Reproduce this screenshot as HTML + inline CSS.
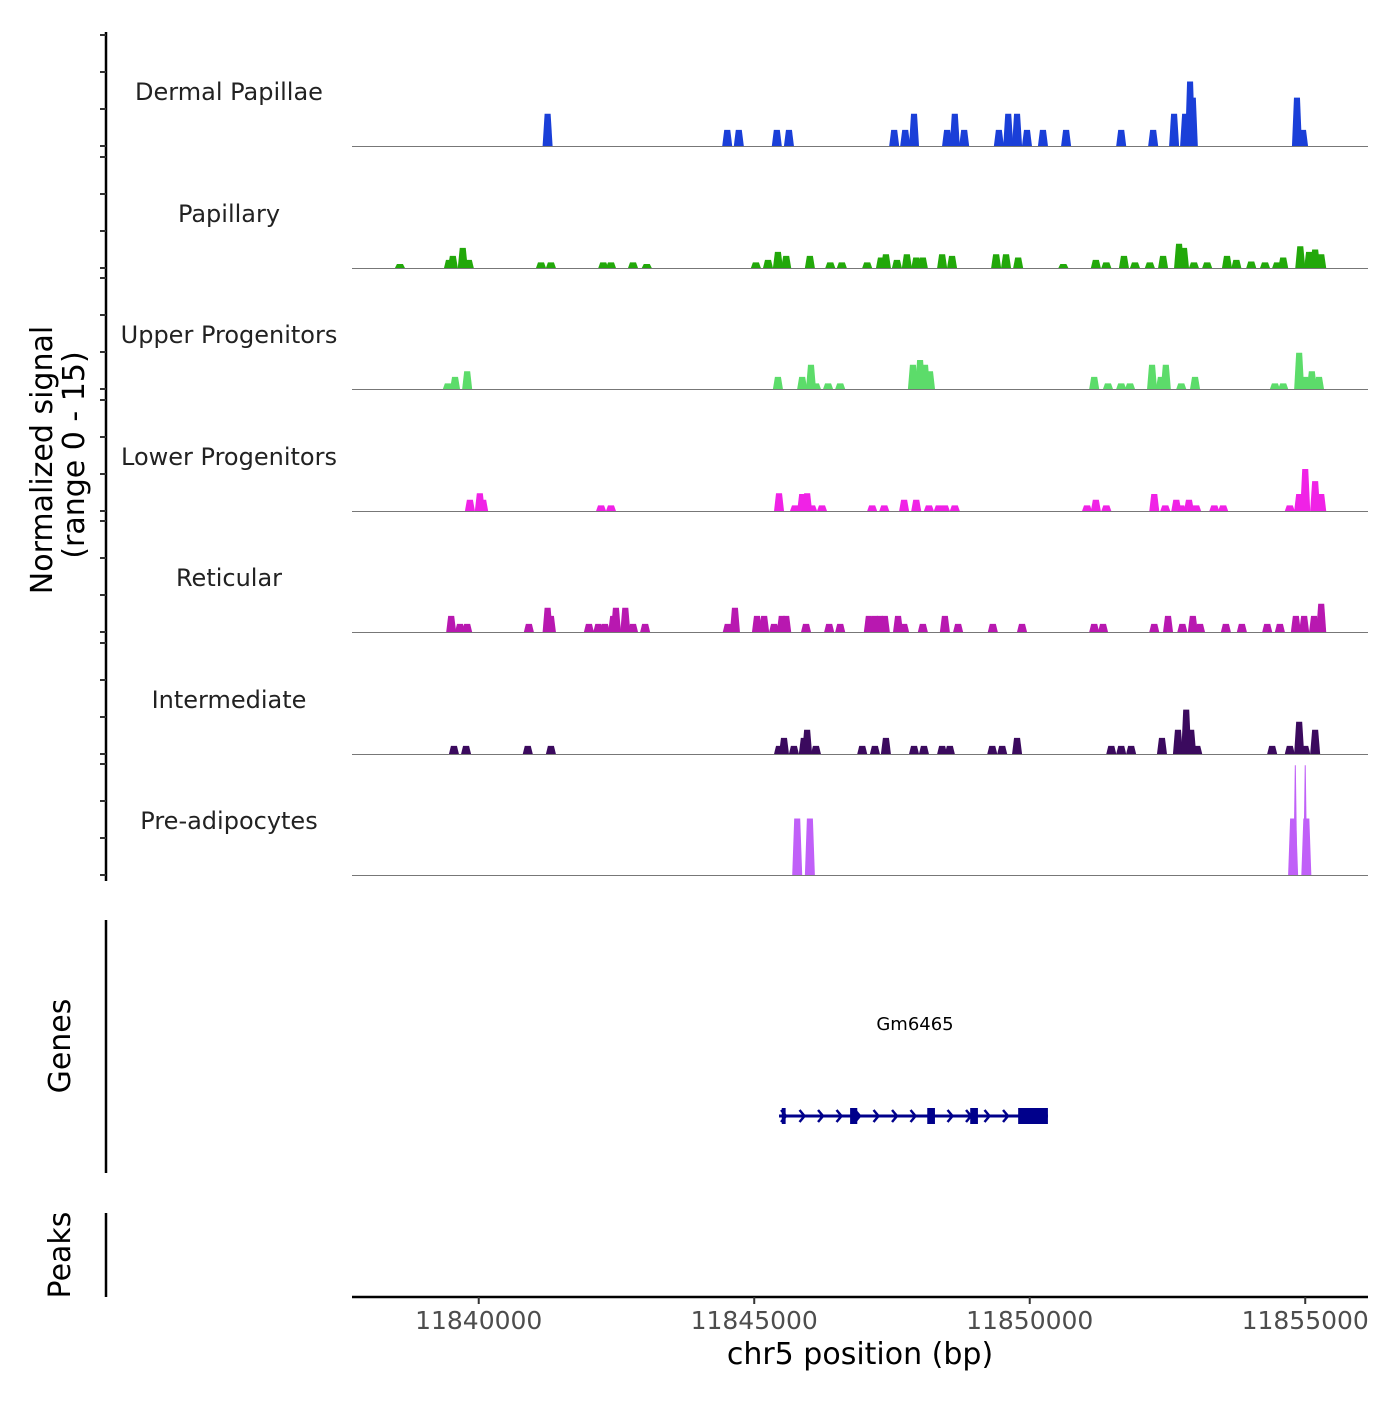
<!DOCTYPE html>
<html><head><meta charset="utf-8"><style>
body{margin:0;background:#fff}
svg text{font-family:"DejaVu Sans","Liberation Sans",sans-serif}
</style></head><body>
<svg id="chart" width="1400" height="1400" xmlns="http://www.w3.org/2000/svg">
<g id="tracks"></g>
<g id="left"></g>
<g id="genes"></g>
<g id="xaxis"></g>
</svg>
<script>
const trackNames = ["Dermal Papillae","Papillary","Upper Progenitors","Lower Progenitors","Reticular","Intermediate","Pre-adipocytes"];
const trackColors = ["#1a3fd8","#22a80a","#5cdc6a","#f022e6","#b818b0","#3b0a5e","#c060f8"];
const dermalPos = [11841.25,11844.51,11844.72,11845.41,11845.63,11847.54,11847.74,11847.90,11848.50,11848.64,11848.81,11849.44,11849.61,11849.77,11849.95,11850.24,11850.66,11851.66,11852.24,11852.62,11852.82,11852.91,11852.96,11854.85,11854.96];
const dermalVal = [4,2,2,2,2,2,2,4,2,4,2,2,4,4,2,2,2,2,2,4,4,8,6,6,2];
const papillaryPos = [11838.57,11839.46,11839.53,11839.71,11839.82,11841.13,11841.31,11842.26,11842.40,11842.80,11843.05,11845.03,11845.25,11845.43,11845.58,11846.01,11846.38,11846.59,11847.05,11847.30,11847.39,11847.59,11847.77,11847.94,11848.06,11848.41,11848.59,11849.39,11849.57,11849.79,11850.61,11851.20,11851.39,11851.71,11851.91,11852.18,11852.42,11852.71,11852.80,11852.98,11853.22,11853.58,11853.75,11854.02,11854.27,11854.49,11854.60,11854.91,11855.07,11855.18,11855.29];
const papillaryVal = [0.5,1,1.5,2.5,1,0.7,0.7,0.7,0.7,0.7,0.5,0.7,1,2,1.5,1.5,0.7,0.7,0.7,1.3,1.7,1,1.7,1.3,1.3,1.7,1.5,1.7,1.7,1.3,0.5,1,0.7,1.5,0.7,0.7,1.5,3,2.5,0.7,0.7,1.5,1,0.8,0.7,0.7,1.3,2.7,2,2.3,1.7];
const upperPos = [11839.44,11839.57,11839.79,11845.43,11845.87,11846.03,11846.12,11846.34,11846.56,11847.88,11848.01,11848.10,11848.19,11851.17,11851.42,11851.66,11851.82,11852.22,11852.38,11852.47,11852.75,11853.00,11854.45,11854.60,11854.89,11855.00,11855.12,11855.25];
const upperVal = [0.7,1.5,2.2,1.5,1.5,3,0.7,0.7,0.7,3,3.6,3,2.2,1.5,0.7,0.7,0.7,3,1.5,3,0.7,1.5,0.7,0.7,4.5,1.5,2.2,1.5];
const lowerPos = [11839.84,11840.02,11840.08,11842.22,11842.40,11845.45,11845.74,11845.87,11845.96,11846.05,11846.23,11847.14,11847.36,11847.72,11847.94,11848.17,11848.35,11848.46,11848.64,11851.04,11851.20,11851.39,11852.26,11852.46,11852.66,11852.75,11852.89,11853.02,11853.35,11853.51,11854.72,11854.89,11855.00,11855.18,11855.29];
const lowerVal = [1.4,2.2,1.4,0.7,0.7,2.2,0.7,2.1,2.2,0.7,0.7,0.7,0.7,1.4,1.4,0.7,0.7,0.7,0.7,0.7,1.4,0.7,2.1,0.7,1.4,0.7,1.4,0.7,0.7,0.7,0.7,2.1,5.2,3.7,2.1];
const reticularPos = [11839.50,11839.66,11839.79,11840.91,11841.25,11841.31,11842.00,11842.17,11842.29,11842.44,11842.49,11842.66,11842.80,11843.02,11844.52,11844.65,11845.05,11845.18,11845.36,11845.50,11845.58,11845.94,11846.36,11846.56,11847.08,11847.19,11847.28,11847.37,11847.61,11847.72,11848.06,11848.46,11848.70,11849.33,11849.86,11851.17,11851.33,11852.26,11852.51,11852.77,11852.96,11853.09,11853.56,11853.85,11854.31,11854.54,11854.83,11854.98,11855.16,11855.29];
const reticularVal = [2,1,1,1,3,2,1,1,1,2,3,3,1,1,1,3,2,2,1,2,2,1,1,1,2,2,2,2,2,1,1,2,1,1,1,1,1,1,2,1,2,1,1,1,1,1,2,2,2,3.5];
const intermediatePos = [11839.55,11839.77,11840.89,11841.31,11845.45,11845.54,11845.72,11845.90,11845.96,11846.12,11846.96,11847.19,11847.39,11847.90,11848.08,11848.41,11848.55,11849.32,11849.50,11849.77,11851.48,11851.66,11851.84,11852.40,11852.69,11852.84,11852.93,11853.04,11854.40,11854.72,11854.89,11855.00,11855.18];
const intermediateVal = [1,1,1,1,1,2,1,2,3,1,1,1,2,1,1,1,1,1,1,2,1,1,1,2,3,5.5,3,1,1,1,4,1,3];
const preadipPos = [11845.78,11846.01,11854.78,11854.82,11855.02,11855.00];
const preadipVal = [7,7,7,13.6,7,13.6];
const trackPos = [dermalPos,papillaryPos,upperPos,lowerPos,reticularPos,intermediatePos,preadipPos];
const trackVal = [dermalVal,papillaryVal,upperVal,lowerVal,reticularVal,intermediateVal,preadipVal];
const xTicks = [11840,11845,11850,11855];
const geneName = "Gm6465";
const geneStart = 11845.45, geneEnd = 11850.33;
const exonStarts = [11845.50,11846.74,11848.14,11848.92,11849.79];
const exonEnds = [11845.57,11846.87,11848.28,11849.06,11850.33];

const NS="http://www.w3.org/2000/svg";
const xMin=11837.7, pxPerKb=55.1, plotL=352, plotR=1368;
const xs = kb => plotL + (kb-xMin)*pxPerKb;
const baselines=[146,268,389,511,632,754,875];
const unitPx=121/15;
const ys=(v,b)=>b - v*unitPx;
function mk(tag,attrs,parent){const e=document.createElementNS(NS,tag);for(const k in attrs)e.setAttribute(k,attrs[k]);parent.appendChild(e);return e;}

const tg=document.getElementById('tracks');
trackNames.forEach((name,i)=>{
  const b=baselines[i];
  const g=mk('g',{},tg);
  
  
  const lab=mk('text',{x:229,y:b-46,'text-anchor':'middle','font-size':24,fill:'#222'},g);
  lab.textContent=name;
  
  
  trackPos[i].forEach((p,j)=>{
    const x=xs(p), top=ys(trackVal[i][j],b);
    const spike=(i===6 && trackVal[i][j]>10);
    const hb=spike?2:5, ht=spike?0.5:3;
    const pk=mk('polygon',{points:`${x-hb},${b} ${x-ht},${top} ${x+ht},${top} ${x+hb},${b}`,fill:trackColors[i]},g);
    
    
  });
  const bl=mk('line',{x1:plotL,x2:plotR,y1:b+0.5,y2:b+0.5,stroke:'#777','stroke-width':1},g);
  
  
});

const lg=document.getElementById('left');
mk('line',{x1:106,x2:106,y1:32,y2:881,stroke:'#000','stroke-width':2.5},lg);
baselines.forEach(b=>{[0,37,74,111].forEach(o=>{mk('line',{x1:100,x2:106,y1:b-o,y2:b-o,stroke:'#333','stroke-width':2},lg);});});
mk('line',{x1:106,x2:106,y1:920,y2:1173,stroke:'#000','stroke-width':2.5},lg);
mk('line',{x1:106,x2:106,y1:1213,y2:1297,stroke:'#000','stroke-width':2.5},lg);
let t=mk('text',{transform:'translate(52,460) rotate(-90)','text-anchor':'middle','font-size':30,fill:'#000'},lg);t.textContent='Normalized signal';


t=mk('text',{transform:'translate(84,455) rotate(-90)','text-anchor':'middle','font-size':30,fill:'#000'},lg);t.textContent='(range 0 - 15)';


t=mk('text',{transform:'translate(70,1046) rotate(-90)','text-anchor':'middle','font-size':30,fill:'#000'},lg);t.textContent='Genes';


t=mk('text',{transform:'translate(70,1255) rotate(-90)','text-anchor':'middle','font-size':30,fill:'#000'},lg);t.textContent='Peaks';



const gg=document.getElementById('genes');
const gy=1116, gc='#00008b';
mk('line',{x1:xs(geneStart),x2:xs(geneEnd),y1:gy,y2:gy,stroke:gc,'stroke-width':3},gg);
for(let x=xs(geneStart)+2;x<xs(geneEnd)-25;x+=18.5){
  mk('polyline',{points:`${x},${gy-6} ${x+5},${gy} ${x},${gy+6}`,fill:'none',stroke:gc,'stroke-width':2.5},gg);
}
exonStarts.forEach((s,i)=>{
  const x1=xs(s),x2=xs(exonEnds[i]);
  const r=mk('rect',{x:x1,y:gy-8,width:Math.max(3,x2-x1),height:16,fill:gc},gg);
  
  
});
t=mk('text',{x:915,y:1030,'text-anchor':'middle','font-size':18,fill:'#000'},gg);t.textContent=geneName;



const xg=document.getElementById('xaxis');
mk('line',{x1:plotL,x2:plotR,y1:1297,y2:1297,stroke:'#000','stroke-width':2.5},xg);
xTicks.forEach(v=>{
  const x=xs(v);
  mk('line',{x1:x,x2:x,y1:1297,y2:1304,stroke:'#333','stroke-width':2},xg);
  const l=mk('text',{x:x,y:1329,'text-anchor':'middle','font-size':25,fill:'#4d4d4d'},xg);l.textContent=v*1000;
  
  
});
t=mk('text',{x:860,y:1364,'text-anchor':'middle','font-size':30,fill:'#000'},xg);t.textContent='chr5 position (bp)';


</script>
</body></html>
